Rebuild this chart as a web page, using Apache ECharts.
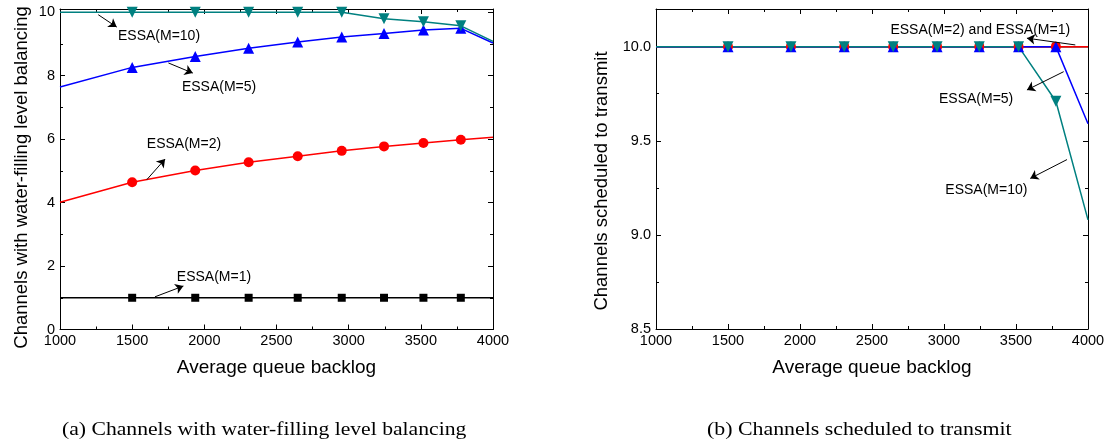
<!DOCTYPE html>
<html>
<head>
<meta charset="utf-8">
<script src="https://cdn.jsdelivr.net/npm/echarts@6/dist/echarts.min.js"></script>
<style>
  html, body { margin: 0; padding: 0; background: #fff; }
  #chart { width: 1105px; height: 446px; }
</style>
</head>
<body>
<div id="chart"></div>
<script>
  // average queue backlog (x of every sample)
  var backlog = [1000, 1500, 1937, 2307, 2647, 2952, 3245, 3518, 3777, 4000];

  // (a) channels with water-filling level balancing
  var balM1 = [1, 1, 1, 1, 1, 1, 1, 1, 1, 1];
  var balM2 = [4.01, 4.64, 5.01, 5.27, 5.46, 5.63, 5.77, 5.88, 5.98, 6.06];
  var balM5 = [7.64, 8.26, 8.60, 8.86, 9.06, 9.22, 9.33, 9.44, 9.49, 9.03];
  var balM10 = [10, 10, 10, 10, 10, 10, 9.79, 9.70, 9.57, 9.08];

  // (b) channels scheduled to transmit
  var schM1 = [10, 10, 10, 10, 10, 10, 10, 10, 10, 10];
  var schM2 = [10, 10, 10, 10, 10, 10, 10, 10, 10, 10];
  var schM5 = [10, 10, 10, 10, 10, 10, 10, 10, 10, 9.59];
  var schM10 = [10, 10, 10, 10, 10, 10, 10, 10, 9.71, 9.08];

  // annotation texts and arrows, in data units
  var notesA = ['ESSA(M=10)', 'ESSA(M=5)', 'ESSA(M=2)', 'ESSA(M=1)'];
  var notesAAt = [[1686, 9.26], [2102, 7.64], [1859, 5.85], [2067, 1.65]];
  var arrowsA = [
    [[1265, 9.92], [1393, 9.53]],
    [[1751, 8.40], [1920, 8.08]],
    [[1601, 4.72], [1728, 5.37]],
    [[1658, 1.03], [1855, 1.37]]
  ];
  var notesB = ['ESSA(M=2) and ESSA(M=1)', 'ESSA(M=5)', 'ESSA(M=10)'];
  var notesBAt = [[3252, 10.09], [3223, 9.72], [3294, 9.24]];
  var arrowsB = [
    [[3912, 10.009], [3576, 10.045]],
    [[3831, 9.867], [3576, 9.77]],
    [[3854, 9.40], [3599, 9.30]]
  ];

  var chart = echarts.init(document.getElementById('chart'));

  function xAxisOf(grid, pos) {
    return {
      type: 'value', gridIndex: grid, position: pos,
      min: 1000, max: 4000, interval: 500,
      name: pos === 'bottom' ? 'Average queue backlog' : '',
      nameLocation: 'middle', nameGap: 29,
      nameTextStyle: { color: '#000', fontSize: 19, fontFamily: 'Liberation Sans' },
      axisLine: { onZero: false, lineStyle: { color: '#000', width: 1 } },
      axisTick: { inside: true, length: 5, lineStyle: { color: '#000' } },
      minorTick: { show: true, splitNumber: 2, length: 3, lineStyle: { color: '#000' } },
      splitLine: { show: false },
      axisLabel: { show: pos === 'bottom', color: '#000', fontSize: 14.5, fontFamily: 'Liberation Sans',
        margin: 4, formatter: function (v) { return String(v); } }
    };
  }

  function yAxisOf(grid, pos, min, max, step, fmt) {
    return {
      type: 'value', gridIndex: grid, position: pos,
      min: min, max: max, interval: step,
      axisLine: { onZero: false, lineStyle: { color: '#000', width: 1 } },
      axisTick: { inside: true, length: 5, lineStyle: { color: '#000' } },
      minorTick: { show: true, splitNumber: 2, length: 3, lineStyle: { color: '#000' } },
      splitLine: { show: false },
      axisLabel: { show: pos === 'left', showMaxLabel: false, color: '#000', fontSize: 14.5,
        fontFamily: 'Liberation Sans', margin: 5, formatter: fmt }
    };
  }

  function line(name, ys, color, symbol, size, rotate, xi, yi) {
    var last = ys.length - 1;
    return {
      name: name, type: 'line', xAxisIndex: xi, yAxisIndex: yi,
      data: backlog.map(function (x, i) {
        return { value: [x, ys[i]], symbol: (i === 0 || i === last) ? 'none' : symbol };
      }),
      symbolSize: size, symbolRotate: rotate,
      lineStyle: { color: color, width: 1.5 },
      itemStyle: { color: color },
      showAllSymbol: true
    };
  }

  function notes(xi, yi, texts, at, arrows) {
    return {
      type: 'line', xAxisIndex: xi, yAxisIndex: yi, data: [], z: 10,
      markLine: {
        silent: true, symbol: ['none', 'arrow'], symbolSize: 8, label: { show: false },
        lineStyle: { color: '#000', width: 1, type: 'solid' },
        itemStyle: { color: '#000' },
        data: arrows.map(function (a) { return [{ coord: a[0] }, { coord: a[1] }]; })
      },
      markPoint: {
        silent: true, symbol: 'circle', symbolSize: 1, itemStyle: { color: 'rgba(0,0,0,0)' },
        label: { show: true, position: 'inside', formatter: '{b}', color: '#000',
          fontSize: 14, fontFamily: 'Liberation Sans' },
        data: texts.map(function (t, i) { return { name: t, coord: at[i] }; })
      }
    };
  }

  function yTitle(text, x, y) {
    return {
      type: 'text', x: x, y: y, rotation: Math.PI / 2,
      style: { text: text, fill: '#000', font: '18.5px "Liberation Sans"',
        align: 'center', verticalAlign: 'middle' }
    };
  }

  var option = {
    animation: false,
    grid: [
      { left: 60, right: 612, top: 9, bottom: 116.5, outerBoundsMode: 'none' },
      { left: 656, right: 17, top: 9, bottom: 117, outerBoundsMode: 'none' }
    ],
    xAxis: [xAxisOf(0, 'bottom'), xAxisOf(0, 'top'), xAxisOf(1, 'bottom'), xAxisOf(1, 'top')],
    yAxis: [
      yAxisOf(0, 'left', 0, 10.1, 2),
      yAxisOf(0, 'right', 0, 10.1, 2),
      yAxisOf(1, 'left', 8.5, 10.2, 0.5, function (v) { return v.toFixed(1); }),
      yAxisOf(1, 'right', 8.5, 10.2, 0.5)
    ],
    series: [
      line('ESSA(M=1)', balM1, '#000000', 'rect', 8, 0, 0, 0),
      line('ESSA(M=2)', balM2, '#ff0000', 'circle', 10, 0, 0, 0),
      line('ESSA(M=5)', balM5, '#0000ff', 'triangle', 11, 0, 0, 0),
      line('ESSA(M=10)', balM10, '#008080', 'triangle', 11, 180, 0, 0),
      notes(0, 0, notesA, notesAAt, arrowsA),
      line('ESSA(M=1)', schM1, '#000000', 'rect', 8, 0, 2, 2),
      line('ESSA(M=2)', schM2, '#ff0000', 'circle', 10, 0, 2, 2),
      line('ESSA(M=5)', schM5, '#0000ff', 'triangle', 11, 0, 2, 2),
      line('ESSA(M=10)', schM10, '#008080', 'triangle', 11, 180, 2, 2),
      notes(2, 2, notesB, notesBAt, arrowsB)
    ],
    graphic: [
      yTitle('Channels with water-filling level balancing', 21.5, 177.5),
      yTitle('Channels scheduled to transmit', 601.5, 181),
      { type: 'text', x: 62, y: 421, scaleX: 1.14,
        style: { text: '(a) Channels with water-filling level balancing', fill: '#000',
          font: '19px "Liberation Serif"' } },
      { type: 'text', x: 707, y: 421, scaleX: 1.15,
        style: { text: '(b) Channels scheduled to transmit', fill: '#000',
          font: '19px "Liberation Serif"' } }
    ]
  };

  chart.setOption(option);
</script>
</body>
</html>
